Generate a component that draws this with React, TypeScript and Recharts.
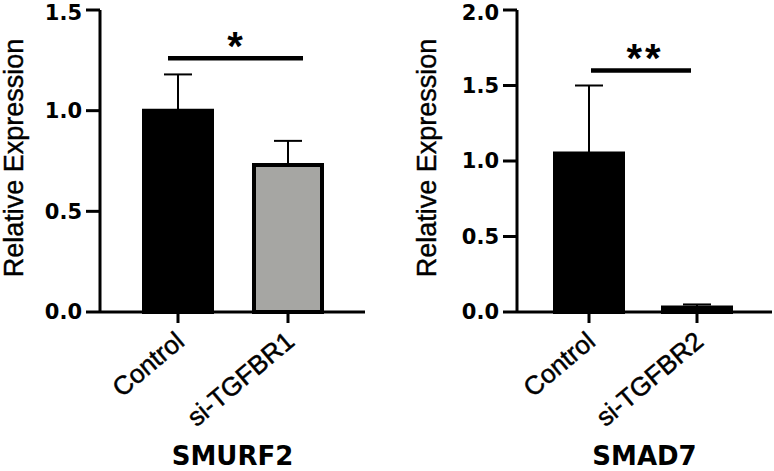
import { Bar, BarChart, Cell, ErrorBar, Label, ReferenceLine, XAxis, YAxis } from "recharts";

const smurfGroups = ["Control", "si-TGFBR1"];
const smurfMeans = [1.0, 0.73];
const smurfErrors = [0.18, 0.12];
const smurfFills = ["#000000", "#a6a6a3"];
const smurfTicks = [0, 0.5, 1.0, 1.5];

const smadGroups = ["Control", "si-TGFBR2"];
const smadMeans = [1.05, 0.03];
const smadErrors = [0.45, 0.02];
const smadFills = ["#000000", "#000000"];
const smadTicks = [0, 0.5, 1.0, 1.5, 2.0];

const SANS = "'Liberation Sans', Arial, sans-serif";
const WIDE = "'DejaVu Sans', sans-serif";

function CategoryTick(props: any) {
  const { x, y, payload } = props;
  return (
    <text
      transform={`translate(${x + 8},${y + 21}) rotate(-40)`}
      textAnchor="end"
      fontFamily={SANS}
      fontSize={26}
      fill="#000"
      stroke="#000"
      strokeWidth={0.5}
    >
      {payload.value}
    </text>
  );
}

interface PanelProps {
  groups: string[];
  means: number[];
  errors: number[];
  fills: string[];
  ticks: number[];
  title: string;
  sigY: number;
  sigText: string;
  sigExtend: [number, number];
  width: number;
  axisWidth: number;
  marginRight: number;
  padding: { left: number; right: number };
  labelX: number;
}

function Panel(p: PanelProps) {
  const data = p.groups.map((g, i) => ({ group: g, mean: p.means[i], err: [0, p.errors[i]] }));
  const top = p.ticks[p.ticks.length - 1];
  return (
    <BarChart
      width={p.width}
      height={471}
      data={data}
      margin={{ top: 10, right: p.marginRight, left: 0, bottom: 0 }}
    >
      <XAxis
        dataKey="group"
        height={159}
        interval={0}
        padding={p.padding}
        axisLine={{ stroke: "#000", strokeWidth: 3 }}
        tickLine={{ stroke: "#000", strokeWidth: 3 }}
        tickSize={11}
        tickMargin={0}
        tick={<CategoryTick />}
      >
        <Label
          value={p.title}
          position="insideBottom"
          offset={6}
          fontFamily={WIDE}
          fontWeight="bold"
          fontSize={26}
          fill="#000"
        />
      </XAxis>
      <YAxis
        type="number"
        domain={[0, top]}
        ticks={p.ticks}
        width={p.axisWidth}
        axisLine={{ stroke: "#000", strokeWidth: 3 }}
        tickLine={{ stroke: "#000", strokeWidth: 3 }}
        tickSize={14}
        tickMargin={4}
        tickFormatter={(v: number) => v.toFixed(1)}
        tick={{ fontFamily: WIDE, fontWeight: "bold", fontSize: 21, fill: "#000" }}
      >
        <Label
          content={(lp: any) => {
            const vb = lp.viewBox;
            const cy = vb.y + vb.height / 2 - 3;
            return (
              <text
                x={p.labelX}
                y={cy}
                transform={`rotate(-90 ${p.labelX} ${cy})`}
                textAnchor="middle"
                dominantBaseline="central"
                fontFamily={SANS}
                fontSize={27}
                fill="#000"
                stroke="#000"
                strokeWidth={0.4}
              >
                Relative Expression
              </text>
            );
          }}
        />
      </YAxis>
      <Bar dataKey="mean" barSize={68} stroke="#000" strokeWidth={4} isAnimationActive={false}>
        {data.map((_, i) => (
          <Cell key={i} fill={p.fills[i]} />
        ))}
        <ErrorBar dataKey="err" direction="y" width={14} stroke="#000" strokeWidth={2} isAnimationActive={false} />
      </Bar>
      <ReferenceLine
        segment={[
          { x: p.groups[0], y: p.sigY },
          { x: p.groups[1], y: p.sigY },
        ]}
        stroke="#000"
        strokeWidth={4.5}
        shape={(lp: any) => (
          <line
            x1={lp.x1 + p.sigExtend[0]}
            x2={lp.x2 + p.sigExtend[1]}
            y1={lp.y1}
            y2={lp.y2}
            stroke="#000"
            strokeWidth={4.5}
          />
        )}
        label={{
          content: (lp: any) => {
            const vb = lp.viewBox;
            return (
              <text
                x={vb.x + vb.width / 2 + 2}
                y={vb.y + 2}
                textAnchor="middle"
                fontFamily={SANS}
                fontWeight="bold"
                fontSize={40}
                letterSpacing={p.sigText.length > 1 ? 3 : 0}
                fill="#000"
              >
                {p.sigText}
              </text>
            );
          },
        }}
      />
    </BarChart>
  );
}

export default function App() {
  return (
    <div style={{ position: "absolute", left: 0, top: 0, width: 774, height: 471, background: "#fff", display: "flex" }}>
      <Panel
        groups={smurfGroups}
        means={smurfMeans}
        errors={smurfErrors}
        fills={smurfFills}
        ticks={smurfTicks}
        title="SMURF2"
        sigY={1.26}
        sigText="*"
        sigExtend={[-10, 15]}
        width={390}
        axisWidth={100}
        marginRight={25}
        padding={{ left: 23, right: 22 }}
        labelX={14}
      />
      <Panel
        groups={smadGroups}
        means={smadMeans}
        errors={smadErrors}
        fills={smadFills}
        ticks={smadTicks}
        title="SMAD7"
        sigY={1.6}
        sigText="**"
        sigExtend={[2, -6]}
        width={384}
        axisWidth={127}
        marginRight={2}
        padding={{ left: 18, right: 21 }}
        labelX={37}
      />
    </div>
  );
}
